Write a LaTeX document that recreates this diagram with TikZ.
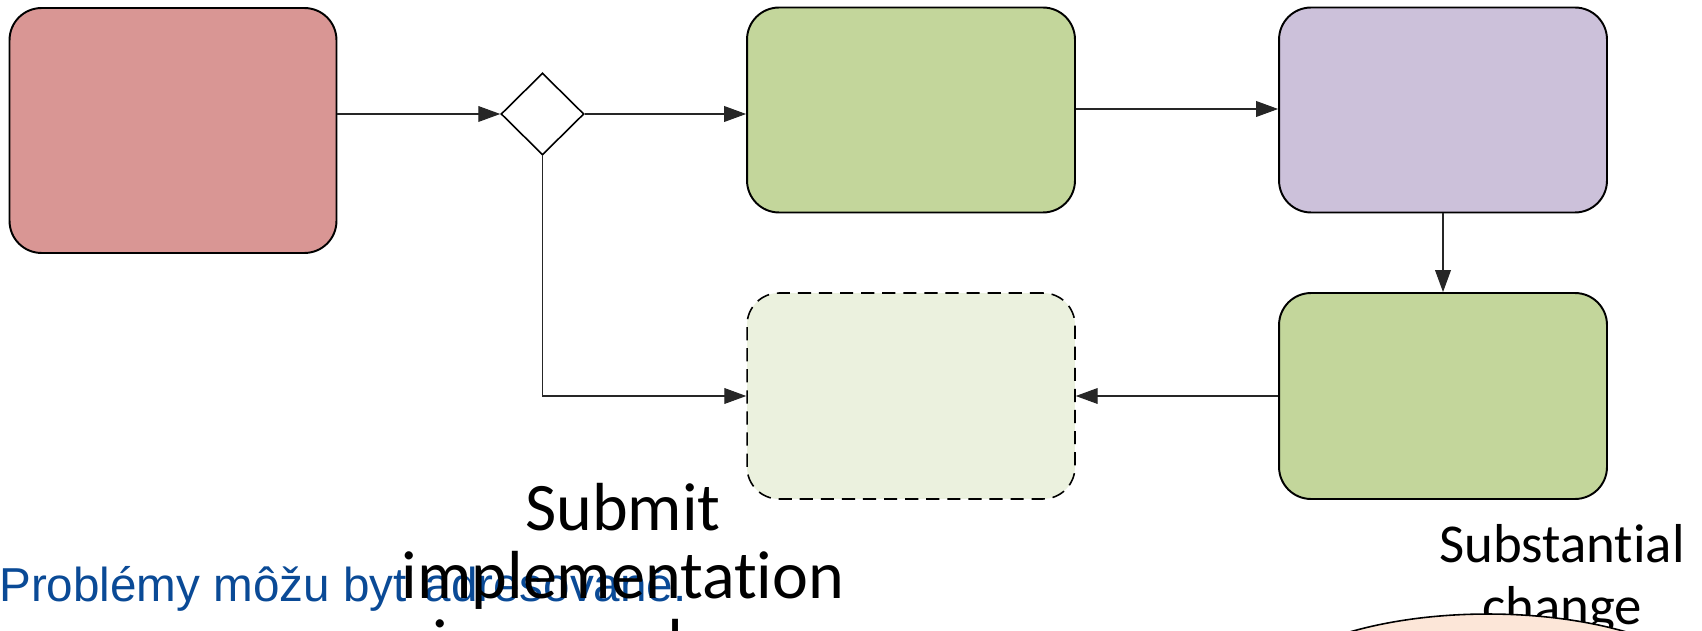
\documentclass[tikz,border=0pt]{standalone}
\usepackage{fontspec}
\setmainfont{Carlito}[Ligatures={NoCommon}]
\newfontfamily\arialf{Liberation Sans}
\usetikzlibrary{arrows.meta,shapes.geometric,calc}
\definecolor{redf}{HTML}{D99694}
\definecolor{greenf}{HTML}{C3D69B}
\definecolor{purplef}{HTML}{CCC1DA}
\definecolor{lightgreenf}{HTML}{EBF1DE}
\definecolor{peachf}{HTML}{FCE6D8}
\definecolor{bluet}{HTML}{0A4A96}
\tikzset{
  box/.style={draw=black, line width=1.1pt, rounded corners=0.64cm,
    minimum width=6.56cm, minimum height=4.1cm, inner sep=0pt},
  conn/.style={draw=black!85, line width=0.6pt, -{Triangle[length=12.5pt,width=9pt]}},
  gate/.style={diamond, draw=black, line width=0.9pt, fill=white,
    minimum width=1.66cm, minimum height=1.64cm, inner sep=0pt, aspect=1},
  bigtxt/.style={inner sep=0pt, anchor=base, font=\fontsize{38.7pt}{38.7pt}\selectfont},
  midtxt/.style={inner sep=0pt, anchor=base, font=\fontsize{31.2pt}{37.5pt}\selectfont},
  bluetxt/.style={inner sep=0pt, anchor=base west, text=bluet,
    font=\arialf\fontsize{27.1pt}{30pt}\selectfont}
}
\begin{document}
\begin{tikzpicture}[x=0.02cm, y=-0.02cm]
\useasboundingbox (0,0) rectangle (1702,631);

% boxes
\node[box, fill=redf, minimum width=6.54cm, minimum height=4.9cm] (red) at (173,130.5) {};
\node[gate] (dia) at (542.5,114) {};
\node[box, fill=greenf] (g1) at (911,110) {};
\node[box, fill=purplef] (pur) at (1443,110) {};
\node[box, fill=greenf, minimum height=4.12cm] (g2) at (1443,396) {};
\node[box, fill=lightgreenf, dash pattern=on 7.5pt off 4.5pt, line width=0.9pt, minimum height=4.12cm] (dsh) at (911,396) {};

% connectors
\draw[conn] (red.east |- dia.west) -- (dia.west);
\draw[conn] (dia.east) -- (dia.east -| g1.west);
\draw[conn] ($(g1.east)+(0,-1)$) -- ($(pur.west)+(0,-1)$);
\draw[conn] (pur.south) -- (g2.north);
\draw[conn] (g2.west) -- (dsh.east);
\draw[conn] (dia.south) |- (dsh.west);

% texts
\node[bluetxt] (blue) at (-1,601) {Problémy môžu byť adresované.};
\node[bigtxt] (t1) at (623,530) {Submit};
\node[bigtxt] (t2) at (623,598) {implementation};
\node[bigtxt] (t3) at (623,666) {in accordance};
\node[midtxt] (s1) at (1562,562) {Substantial};
\node[midtxt] (s2) at (1562,624) {change};

% ellipse at bottom right
\node[ellipse, draw=black, line width=0.9pt, fill=peachf, minimum width=9.68cm, minimum height=4cm] (ell) at (1488,714) {};
\end{tikzpicture}
\end{document}
